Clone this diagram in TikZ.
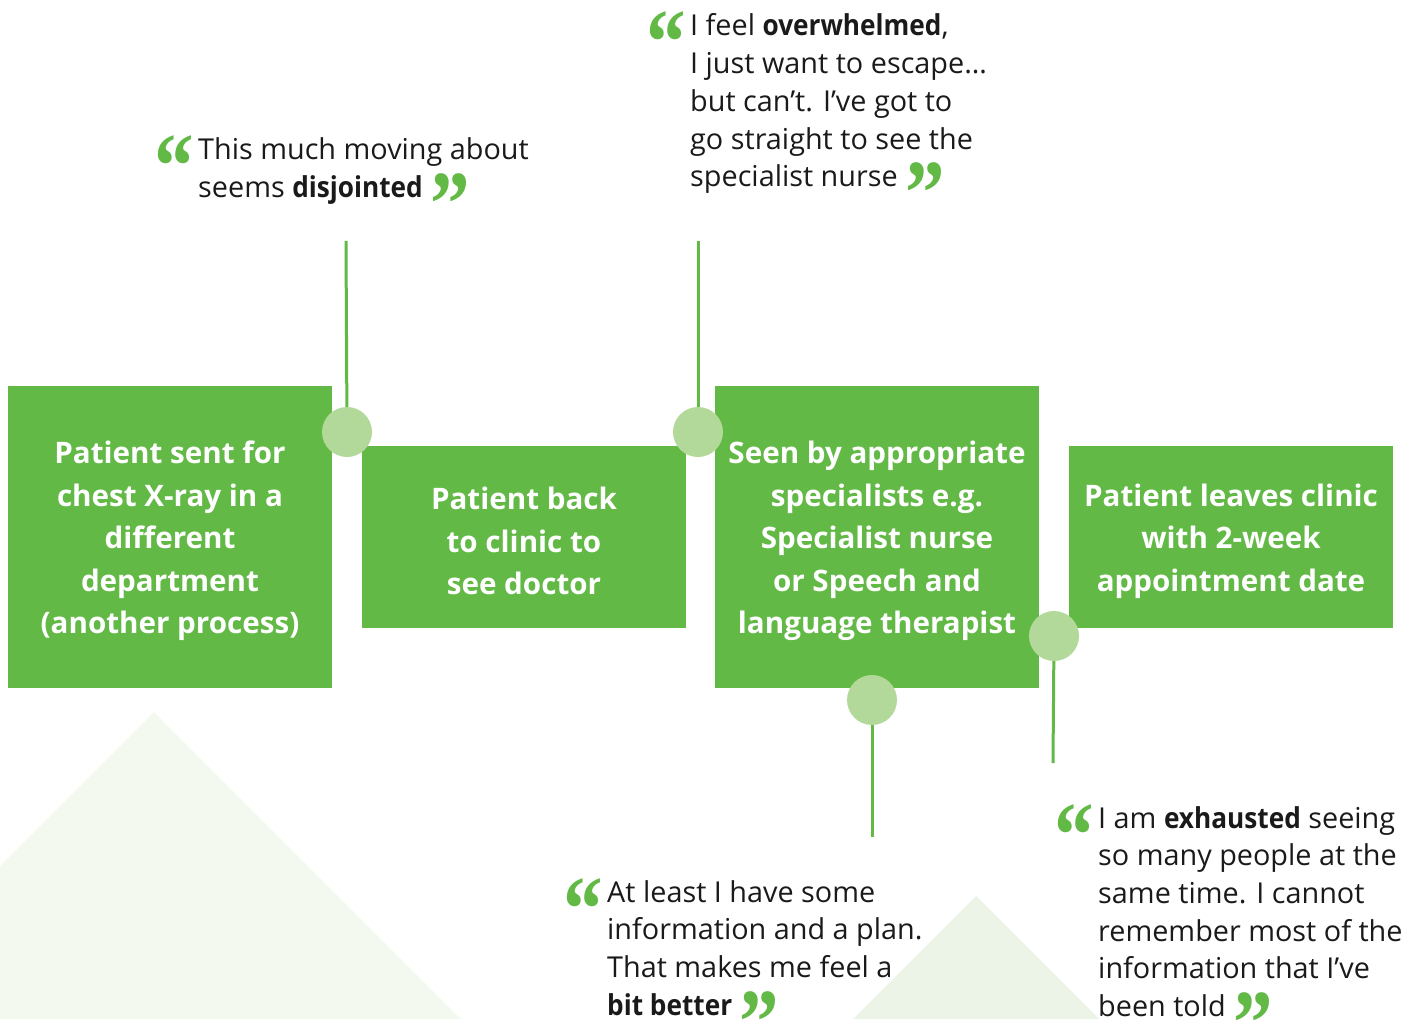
\documentclass[tikz,border=0pt]{standalone}
\usepackage{fontspec}
\setmainfont{Open Sans}[BoldFeatures={FakeStretch=0.91}]
\newfontfamily\boxfont{Open Sans}
\newfontfamily\qfont{Liberation Serif}
\usepackage{graphicx}
\definecolor{boxgreen}{HTML}{62B946}
\definecolor{dotgreen}{HTML}{B3D99A}
\definecolor{triA}{HTML}{F3F9EF}
\definecolor{triB}{HTML}{EBF4E6}
\definecolor{ink}{HTML}{1A1A1A}
\newcommand\qmark[1]{\smash{\textcolor{boxgreen}{\raisebox{-38pt}{\scalebox{0.85}[1]{\qfont\fontsize{93}{93}\selectfont\bfseries #1}}}}}
\newcommand\qlines[1]{\begin{tabular}[t]{@{}l@{}}#1\end{tabular}}
\newcommand\topstrut{\rule{0pt}{31pt}}
\begin{document}
\begin{tikzpicture}[x=1pt,y=-1pt,
  stepbox/.style={fill=boxgreen,text=white,font=\boxfont\bfseries\fontsize{29.6}{42.5}\selectfont,
    align=center,minimum width=324pt,inner sep=0pt},
  dot/.style={circle,fill=dotgreen,minimum size=50pt,inner sep=0pt},
  conn/.style={draw=boxgreen,line width=3pt},
  quotetext/.style={font=\fontsize{28.8}{37.7}\selectfont,text=ink,inner sep=0pt,anchor=base west},
  openq/.style={inner sep=0pt,anchor=base east}]
\useasboundingbox (0,0) rectangle (1404,1019);
% background triangles
\fill[triA] (0,866) -- (154,712) -- (461,1019) -- (0,1019) -- cycle;
\fill[triB] (853,1019) -- (976,896) -- (1099,1019) -- cycle;
% boxes
\node[stepbox,minimum height=302pt] (b1) at (170,537) {\topstrut Patient sent for\\chest X-ray in a\\different\\department\\(another process)};
\node[stepbox,minimum height=182pt] (b2) at (524,537) {\topstrut Patient back\\to clinic to\\see doctor};
\node[stepbox,minimum height=302pt] (b3) at (877,537) {\topstrut Seen by appropriate\\specialists e.g.\\Specialist nurse\\or Speech and\\language therapist};
\node[stepbox,minimum height=182pt] (b4) at (1231,537) {\topstrut Patient leaves clinic\\with 2-week\\appointment date};
% connector ends
\coordinate (t1) at (346,241);
\coordinate (t2) at (698,241);
\coordinate (t3) at (872,837);
\coordinate (t4) at (1053,763);
% dots
\node[dot] (d1) at (347,432) {};
\node[dot] (d2) at (698,432) {};
\node[dot] (d3) at (872,700) {};
\node[dot] (d4) at (1054,636) {};
\draw[conn] (t1) -- (d1);
\draw[conn] (t2) -- (d2);
\draw[conn] (d3) -- (t3);
\draw[conn] (d4) -- (t4);
% quotes
\node[quotetext] (q1) at (198,160) {\qlines{This much moving about\\seems \textbf{disjointed} \qmark{”}}};
\node[openq] (o1) at ([xshift=-4pt]q1.base west) {\qmark{“}};
\node[quotetext] (q2) at (690,36) {\qlines{I feel \textbf{overwhelmed},\\I just want to escape…\\but can’t. I’ve got to\\go straight to see the\\specialist nurse \qmark{”}}};
\node[openq] (o2) at ([xshift=-4pt]q2.base west) {\qmark{“}};
\node[quotetext] (q3) at (607,902) {\qlines{At least I have some\\information and a plan.\\That makes me feel a\\\textbf{bit better} \qmark{”}}};
\node[openq] (o3) at ([xshift=-4pt]q3.base west) {\qmark{“}};
\node[quotetext] (q4) at (1098,828) {\qlines{I am \textbf{exhausted} seeing\\so many people at the\\same time. I cannot\\remember most of the\\information that I’ve\\been told \qmark{”}}};
\node[openq] (o4) at ([xshift=-4pt]q4.base west) {\qmark{“}};
\end{tikzpicture}
\end{document}
